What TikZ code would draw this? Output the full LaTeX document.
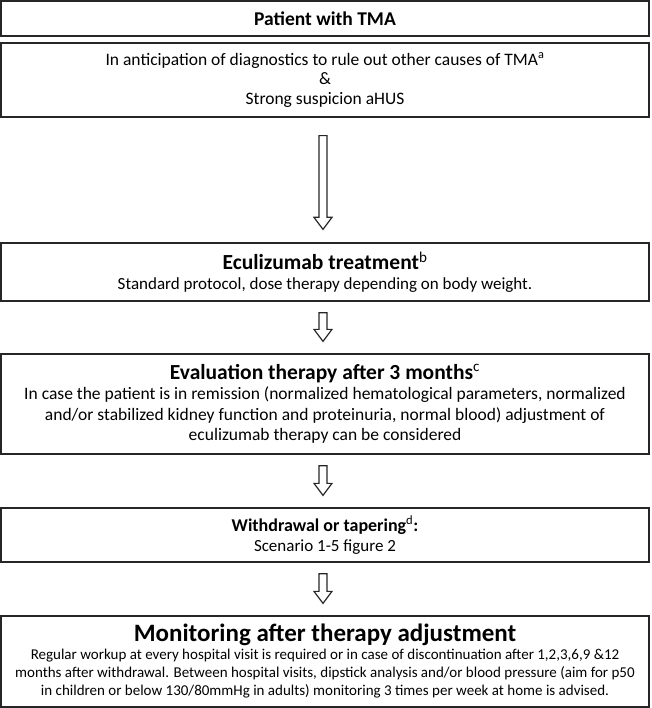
\documentclass[tikz,border=0pt]{standalone}
\usepackage{fontspec}
\setmainfont{Carlito}
\usetikzlibrary{positioning}
\usetikzlibrary{calc}
\tikzstyle{every node}=[font=\fontsize{17.5}{19.5}\selectfont]
\tikzstyle{every path}=[line width=1.3pt,line join=miter]
\tikzstyle{box}=[draw=black!85,minimum width=648pt,inner sep=0pt,align=center]
\tikzstyle{fatarrow}=[draw=black!85,line width=1.2pt]
\newcommand{\hd}[3]{{\fontsize{#1}{#2}\selectfont\bfseries #3}}
\newcommand{\fn}[1]{\textsuperscript{\normalfont #1}}
% hollow down arrow between two named points
\newcommand{\hollowarrow}[2]{\draw[fatarrow]
    ($(#1)+(-4,0)$)--($(#2)+(-4,12)$)--($(#2)+(-9,12)$)--(#2)--
    ($(#2)+(9,12)$)--($(#2)+(4,12)$)--($(#1)+(4,0)$)--cycle;}

\begin{document}
\begin{tikzpicture}[x=1pt,y=1pt]
  \useasboundingbox (0,0) rectangle (651,-708);
  \node[box,minimum height=35pt] (patient) at (325,-18.5)
    {\hd{19.5}{22}{Patient with TMA}};
  \node[box,minimum height=74pt] (diag) at (325,-80)
    {In anticipation of diagnostics to rule out other causes of TMA\fn{a}\\
     \&\\
     Strong suspicion aHUS};
  \node[box,minimum height=58pt,font=\fontsize{17}{20}\selectfont] (eculizumab) at (325,-272)
    {\hd{21.5}{24}{Eculizumab treatment\fn{b}}\\
     Standard protocol, dose therapy depending on body weight.};
  \node[box,minimum height=100pt,font=\fontsize{17.5}{20.5}\selectfont] (evaluation) at (325,-404)
    {\hd{21.5}{24}{Evaluation therapy after 3 months\fn{c}}\\
     In case the patient is in remission (normalized hematological parameters, normalized\\
     and/or stabilized kidney function and proteinuria, normal blood) adjustment of\\
     eculizumab therapy can be considered};
  \node[box,minimum height=54pt,font=\fontsize{17}{20}\selectfont] (withdrawal) at (325,-535)
    {\hd{18}{21}{Withdrawal or tapering\fn{d}:}\\
     Scenario 1-5 figure 2};
  \node[box,minimum height=91pt,font=\fontsize{15}{18}\selectfont] (monitoring) at (325,-661.5)
    {\hd{25}{27}{Monitoring after therapy adjustment}\\
     Regular workup at every hospital visit is required or in case of discontinuation after 1,2,3,6,9 \&12\\
     months after withdrawal. Between hospital visits, dipstick analysis and/or blood pressure (aim for p50\\
     in children or below 130/80mmHg in adults) monitoring 3 times per week at home is advised.};
  %
  \coordinate[below=18pt of diag.south,xshift=-2pt] (a1s);
  \coordinate[above=13pt of eculizumab.north,xshift=-2pt] (a1e);
  \coordinate[below=11pt of eculizumab.south,xshift=-2pt] (a2s);
  \coordinate[above=12pt of evaluation.north,xshift=-2pt] (a2e);
  \coordinate[below=11pt of evaluation.south,xshift=-2pt] (a3s);
  \coordinate[above=12pt of withdrawal.north,xshift=-2pt] (a3e);
  \coordinate[below=11pt of withdrawal.south,xshift=-2pt] (a4s);
  \coordinate[above=12pt of monitoring.north,xshift=-2pt] (a4e);
  \hollowarrow{a1s}{a1e}
  \hollowarrow{a2s}{a2e}
  \hollowarrow{a3s}{a3e}
  \hollowarrow{a4s}{a4e}
\end{tikzpicture}
\end{document}
